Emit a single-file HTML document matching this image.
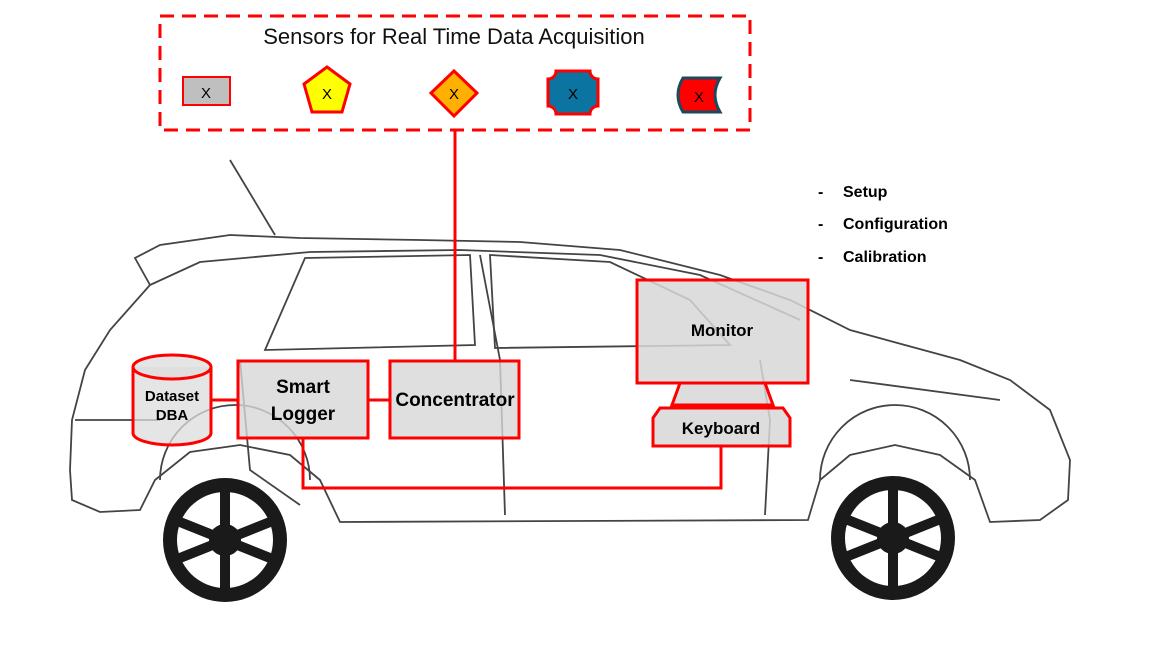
<!DOCTYPE html>
<html><head><meta charset="utf-8"><style>
html,body{margin:0;padding:0;background:#fff;}
body{width:1150px;height:646px;overflow:hidden;position:relative;font-family:"Liberation Sans",sans-serif;}
svg{position:absolute;left:0;top:0;}
</style></head><body>
<svg width="1150" height="646" viewBox="0 0 1150 646">
<g fill="none" stroke="#444" stroke-width="1.8">
<path d="M70,470 L72,420 L85,370 L110,330 L150,285 L135,258 L160,245 L230,235 L300,238 L420,240 L520,242 L620,250 L720,275 L790,300 L850,330 L960,360 L1010,380 L1050,410 L1070,460 L1068,500 L1040,520 L990,522 L975,480 L940,455 L895,445 L850,455 L820,480 L808,520 L340,522 L320,480 L290,455 L240,445 L190,452 L155,480 L140,510 L100,512 L72,500 Z"/>
<path d="M150,285 L200,262 L310,252 L460,250 L600,255 L700,275 L800,320"/>
<path d="M265,350 L305,258 L470,255 L475,345 Z"/>
<path d="M490,255 L610,262 L690,300 L730,345 L495,348 Z"/>
<path d="M240,360 L250,470 L300,505"/>
<path d="M480,255 L500,360 L505,515"/>
<path d="M760,360 L770,420 L765,515"/>
<path d="M75,420 L160,420 M850,380 L1000,400"/>
<path d="M230,160 L275,235"/>
<path d="M160,480 A75,75 0 0 1 310,480"/>
<path d="M820,480 A75,75 0 0 1 970,480"/>
</g>
<circle cx="225" cy="540" r="62" fill="#1a1a1a"/>
<circle cx="225" cy="540" r="48" fill="#fff"/>
<circle cx="893" cy="538" r="62" fill="#1a1a1a"/>
<circle cx="893" cy="538" r="48" fill="#fff"/>
<g stroke="#1a1a1a" stroke-width="10">
<path d="M225,492 L225,588 M180,522 L270,558 M180,558 L270,522"/>
<path d="M893,490 L893,586 M848,520 L938,556 M848,556 L938,520"/>
</g>
<circle cx="225" cy="540" r="16" fill="#1a1a1a"/>
<circle cx="893" cy="538" r="16" fill="#1a1a1a"/>

<rect x="160" y="16" width="590" height="114" fill="#fff" stroke="#f00" stroke-width="3" stroke-dasharray="14,8"/>
<text x="454" y="44" font-size="22" text-anchor="middle" fill="#111">Sensors for Real Time Data Acquisition</text>
<rect x="183" y="77" width="47" height="28" fill="#bfbfbf" stroke="#f00" stroke-width="2"/>
<text x="206" y="98" font-size="15" text-anchor="middle">X</text>
<polygon points="327,67 350,84 342,112 312,112 304,84" fill="#ff0" stroke="#f00" stroke-width="3"/>
<text x="327" y="99" font-size="15" text-anchor="middle">X</text>
<polygon points="454,71 477,93 454,116 431,93" fill="#ffb000" stroke="#f00" stroke-width="3"/>
<text x="454" y="99" font-size="15" text-anchor="middle">X</text>
<path d="M556,71 L590,71 A8,8 0 0 0 598,79 L598,106 A8,8 0 0 0 590,114 L556,114 A8,8 0 0 0 548,106 L548,79 A8,8 0 0 0 556,71 Z" fill="#0b74a0" stroke="#f00" stroke-width="3"/>
<text x="573" y="99" font-size="15" text-anchor="middle">X</text>
<path d="M683,78 L720,78 Q710,95 720,112 L683,112 Q673,95 683,78 Z" fill="#f00" stroke="#1b4a5e" stroke-width="3"/>
<text x="699" y="102" font-size="15" text-anchor="middle">X</text>

<g stroke="#f00" stroke-width="3" fill="none">
<path d="M455,130 L455,362"/>
<path d="M211,400 L238,400 M368,400 L390,400"/>
<path d="M303,438 L303,488 L721,488 L721,446"/>
</g>

<g stroke="#f00" stroke-width="3">
<path d="M133,367 L133,433 A39,12 0 0 0 211,433 L211,367" fill="rgba(220,220,220,0.75)"/>
<ellipse cx="172" cy="367" rx="39" ry="12" fill="rgba(220,220,220,0.75)"/>
<rect x="238" y="361" width="130" height="77" fill="rgba(215,215,215,0.8)"/>
<rect x="390" y="361" width="129" height="77" fill="rgba(215,215,215,0.8)"/>
<rect x="637" y="280" width="171" height="103" fill="rgba(215,215,215,0.85)"/>
<polygon points="680,383 765,383 773,405 672,405" fill="rgba(215,215,215,0.85)"/>
<polygon points="660,408 783,408 790,418 790,446 653,446 653,418" fill="rgba(215,215,215,0.85)"/>
</g>
<g font-weight="bold" fill="#000" text-anchor="middle">
<text x="172" y="401" font-size="15">Dataset</text>
<text x="172" y="420" font-size="15">DBA</text>
<text x="303" y="393" font-size="19">Smart</text>
<text x="303" y="420" font-size="19">Logger</text>
<text x="455" y="406" font-size="19">Concentrator</text>
<text x="722" y="336" font-size="17">Monitor</text>
<text x="721" y="434" font-size="17">Keyboard</text>
</g>
<g font-weight="bold" font-size="16" fill="#000">
<text x="818" y="197">-</text><text x="843" y="197">Setup</text>
<text x="818" y="229">-</text><text x="843" y="229">Configuration</text>
<text x="818" y="262">-</text><text x="843" y="262">Calibration</text>
</g>
</svg>
</body></html>
